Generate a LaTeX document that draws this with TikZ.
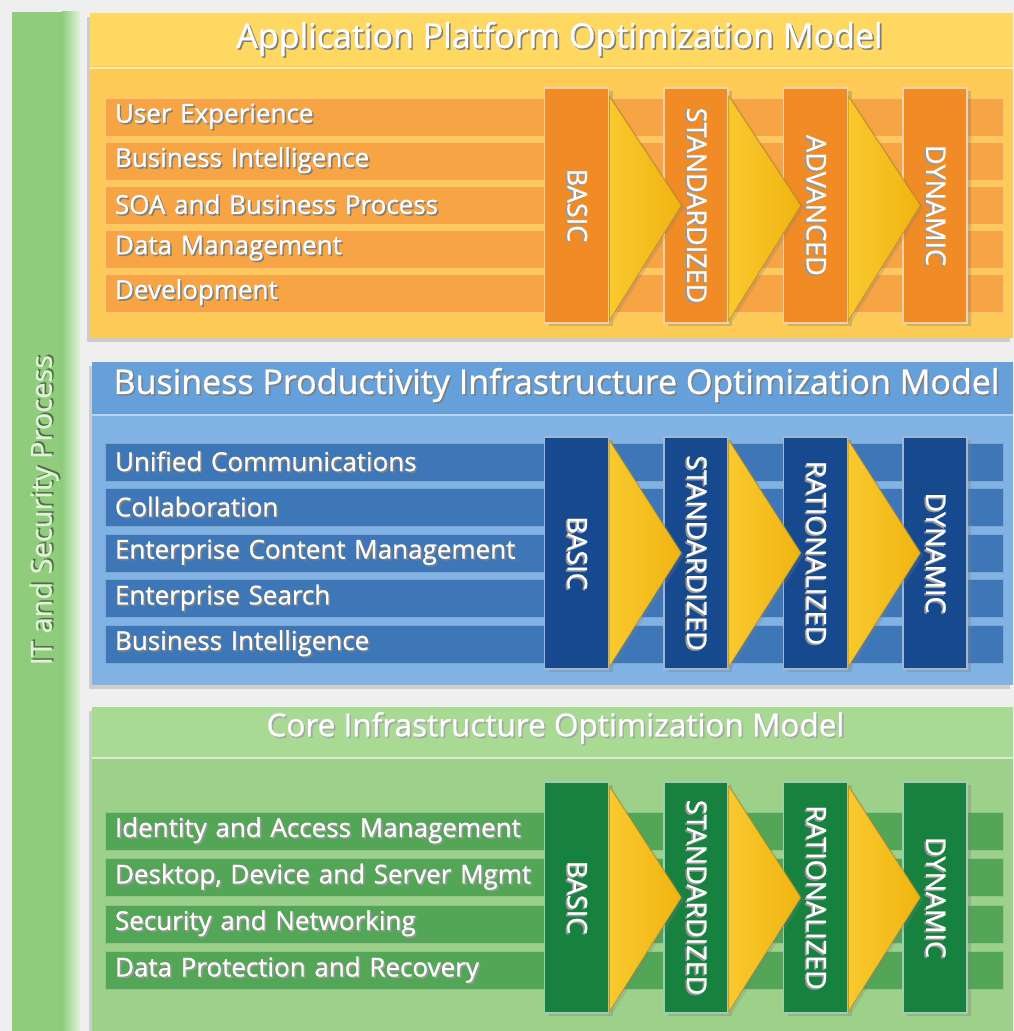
\documentclass[tikz,border=0pt]{standalone}
\usepackage{fontspec}
\setmainfont{Open Sans}[FakeBold=0.8]
\usetikzlibrary{positioning,shadows}

\definecolor{bgcol}{HTML}{EFEFEF}
\definecolor{barcol}{HTML}{8FCD7C}
\definecolor{barlite}{HTML}{E2F3DA}
\definecolor{ittxt}{HTML}{E2F2D8}
\definecolor{ohead}{HTML}{FFD862}
\definecolor{obody}{HTML}{FDCA55}
\definecolor{orowcol}{HTML}{F6A444}
\definecolor{ostagecol}{HTML}{F18B26}
\definecolor{bhead}{HTML}{65A0DB}
\definecolor{bbody}{HTML}{80B3E3}
\definecolor{browcol}{HTML}{3D77B8}
\definecolor{bstagecol}{HTML}{17498F}
\definecolor{ghead}{HTML}{A9DA94}
\definecolor{gbody}{HTML}{9DD189}
\definecolor{growcol}{HTML}{52A655}
\definecolor{gstagecol}{HTML}{178240}
\definecolor{chevcol}{HTML}{F9C92E}
\definecolor{chevdark}{HTML}{F0B411}

% white text with a small dark shadow
\newcommand\shtxt[2][black!50]{\leavevmode\rlap{\kern1.6pt\raisebox{-1.6pt}{\textcolor{#1}{#2}}}#2}
\newcommand\stg[1]{\rotatebox{-90}{\shtxt[black!40]{#1}}}

\begin{document}
\begin{tikzpicture}[x=1pt,y=-1pt,node distance=119.5pt,on grid,
    panel/.style={inner sep=0pt,drop shadow={shadow xshift=-3pt,shadow yshift=-4pt,opacity=.3}},
    title/.style={text=white,font=\fontsize{34}{38}\selectfont},
    sep/.style={white!55!#1,line width=1.5pt},
    row/.style={fill=#1,draw=white!35!#1,line width=1pt,minimum width=898,minimum height=38,
      text width=878,inner xsep=10pt,inner ysep=0pt,align=left,text=white,font=\fontsize{26}{28}\selectfont},
    stage/.style={fill=#1,draw=white!60!#1,line width=1.5pt,minimum width=64,inner sep=0pt,
      text=white,font=\fontsize{27}{30}\selectfont,
      drop shadow={shadow xshift=4pt,shadow yshift=-3pt,opacity=.35}},
    chev/.style={left color=chevcol,right color=chevdark,draw=chevdark!85!black,line width=.6pt,
      drop shadow={shadow xshift=3pt,shadow yshift=-2pt,opacity=.25}}]

\useasboundingbox (0,0) rectangle (1014,1031);
\fill[bgcol] (0,0) rectangle (1014,1031);

% left bar
\node[inner sep=0pt,minimum width=68,minimum height=1019,fill=barcol] (itb) at (46,521.5) {};
\shade[left color=barcol,right color=barlite] ([xshift=-18pt]itb.north east) rectangle (itb.south east);
\node[rotate=90,text=ittxt,font=\fontsize{29}{32}\selectfont] (its) at (45,510) {\shtxt[black!45!barcol]{IT and Security Process}};

% application platform
\node[panel,fill=obody,minimum width=923,minimum height=325] (ap) at (551.5,175.5) {};
\fill[ohead] (ap.north west) rectangle ([yshift=-53pt]ap.north east);
\draw[sep=ohead] ([yshift=-55pt]ap.north west) -- ([yshift=-55pt]ap.north east);
\node[title] (apt) at ([yshift=-27pt,xshift=8pt]ap.north) {\shtxt{Application Platform Optimization Model}};

\node[row=orowcol] (ux) at (554,117) {\shtxt{User Experience}};
\node[row=orowcol] (abi) [below=44pt of ux] {\shtxt{Business Intelligence}};
\node[row=orowcol] (soa) [below=44pt of abi] {\shtxt{SOA and Business Process}};
\node[row=orowcol] (dm) [below=44pt of soa] {\shtxt{Data Management}};
\node[row=orowcol] (dev) [below=44pt of dm] {\shtxt{Development}};

\node[stage=ostagecol,minimum height=235] (ab) at (576.5,205.5) {\stg{BASIC}};
\node[stage=ostagecol,minimum height=235] (as) [right=of ab] {\stg{STANDARDIZED}};
\node[stage=ostagecol,minimum height=235] (aa) [right=of as] {\stg{ADVANCED}};
\node[stage=ostagecol,minimum height=235] (ad) [right=of aa] {\stg{DYNAMIC}};

\filldraw[chev] ([yshift=-9pt]ab.north east) -- ([xshift=72pt]ab.east) -- ([yshift=3pt]ab.south east) -- cycle;
\filldraw[chev] ([yshift=-9pt]as.north east) -- ([xshift=72pt]as.east) -- ([yshift=3pt]as.south east) -- cycle;
\filldraw[chev] ([yshift=-9pt]aa.north east) -- ([xshift=72pt]aa.east) -- ([yshift=3pt]aa.south east) -- cycle;

% business productivity
\node[panel,fill=bbody,minimum width=921,minimum height=323] (bp) at (552.5,523.5) {};
\fill[bhead] (bp.north west) rectangle ([yshift=-52pt]bp.north east);
\draw[sep=bhead] ([yshift=-53pt]bp.north west) -- ([yshift=-53pt]bp.north east);
\node[title] (bpt) at ([yshift=-24pt,xshift=4pt]bp.north) {\shtxt{Business Productivity Infrastructure Optimization Model}};

\node[row=browcol] (uc) at (554,462) {\shtxt{Unified Communications}};
\node[row=browcol] (col) [below=45.5pt of uc] {\shtxt{Collaboration}};
\node[row=browcol] (ecm) [below=45.5pt of col] {\shtxt{Enterprise Content Management}};
\node[row=browcol] (es) [below=45.5pt of ecm] {\shtxt{Enterprise Search}};
\node[row=browcol] (bbi) [below=45.5pt of es] {\shtxt{Business Intelligence}};

\node[stage=bstagecol,minimum height=232] (bb) at (576.5,553) {\stg{BASIC}};
\node[stage=bstagecol,minimum height=232] (bs) [right=of bb] {\stg{STANDARDIZED}};
\node[stage=bstagecol,minimum height=232] (br) [right=of bs] {\stg{RATIONALIZED}};
\node[stage=bstagecol,minimum height=232] (bd) [right=of br] {\stg{DYNAMIC}};

\filldraw[chev] ([yshift=-4pt]bb.north east) -- ([xshift=72pt]bb.east) -- ([yshift=3pt]bb.south east) -- cycle;
\filldraw[chev] ([yshift=-4pt]bs.north east) -- ([xshift=72pt]bs.east) -- ([yshift=3pt]bs.south east) -- cycle;
\filldraw[chev] ([yshift=-4pt]br.north east) -- ([xshift=72pt]br.east) -- ([yshift=3pt]br.south east) -- cycle;

% core infrastructure
\node[panel,fill=gbody,minimum width=921,minimum height=324] (cp) at (552.5,869) {};
\fill[ghead] (cp.north west) rectangle ([yshift=-50pt]cp.north east);
\draw[sep=ghead] ([yshift=-51pt]cp.north west) -- ([yshift=-51pt]cp.north east);
\node[title,font=\fontsize{31.5}{35}\selectfont] (cpt) at ([yshift=-22pt,xshift=3pt]cp.north) {\shtxt[black!35]{Core Infrastructure Optimization Model}};

\node[row=growcol] (iam) at (554,831) {\shtxt[black!40]{Identity and Access Management}};
\node[row=growcol] (ddsm) [below=46.5pt of iam] {\shtxt[black!40]{Desktop, Device and Server Mgmt}};
\node[row=growcol] (sn) [below=46.5pt of ddsm] {\shtxt[black!40]{Security and Networking}};
\node[row=growcol] (dpr) [below=46.5pt of sn] {\shtxt[black!40]{Data Protection and Recovery}};

\node[stage=gstagecol,minimum height=231] (cb) at (576.5,897.5) {\stg{BASIC}};
\node[stage=gstagecol,minimum height=231] (cs) [right=of cb] {\stg{STANDARDIZED}};
\node[stage=gstagecol,minimum height=231] (cr) [right=of cs] {\stg{RATIONALIZED}};
\node[stage=gstagecol,minimum height=231] (cd) [right=of cr] {\stg{DYNAMIC}};

\filldraw[chev] ([yshift=-5pt]cb.north east) -- ([xshift=72pt]cb.east) -- ([yshift=2pt]cb.south east) -- cycle;
\filldraw[chev] ([yshift=-5pt]cs.north east) -- ([xshift=72pt]cs.east) -- ([yshift=2pt]cs.south east) -- cycle;
\filldraw[chev] ([yshift=-5pt]cr.north east) -- ([xshift=72pt]cr.east) -- ([yshift=2pt]cr.south east) -- cycle;
\end{tikzpicture}
\end{document}
